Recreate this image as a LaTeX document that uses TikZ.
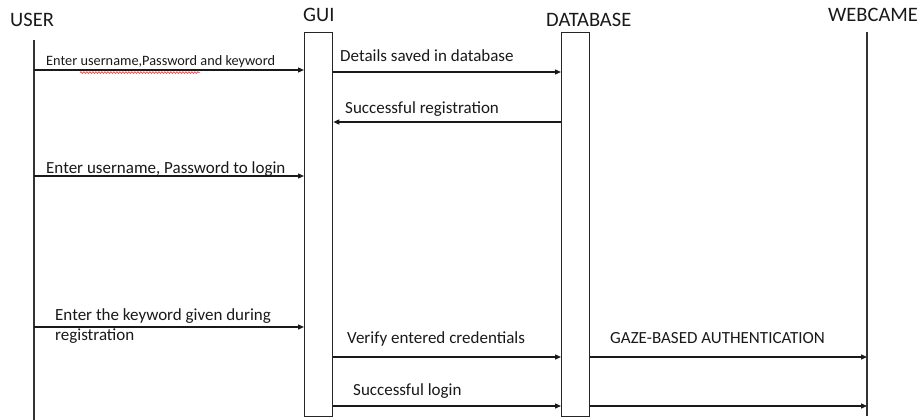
\documentclass[tikz,border=0pt]{standalone}
\usepackage{fontspec}
\setmainfont{Carlito}
\usetikzlibrary{arrows.meta,decorations.pathmorphing}
\begin{document}
\begin{tikzpicture}[x=1pt,y=1pt,
  lbl/.style={font=\fontsize{20.5}{24}\selectfont, text=black!90, inner sep=0pt, anchor=base west},
  msgtxt/.style={font=\fontsize{17}{20}\selectfont, text=black!90, inner sep=0pt, anchor=base west, align=left},
  smalltxt/.style={font=\fontsize{14.3}{17}\selectfont, text=black!90, inner sep=0pt, anchor=base west},
  msg/.style={draw=black!90, line width=1.3pt, -{Triangle[length=6pt,width=5pt]}},
  act/.style={draw=black!85, line width=1.3pt, fill=white, minimum width=28pt, minimum height=384pt, inner sep=0pt, anchor=north west},
  life/.style={draw=black!80, line width=1.3pt},
  squiggle/.style={draw=red!75, line width=0.7pt, decorate, decoration={snake, amplitude=0.9pt, segment length=3pt}}]
\useasboundingbox (0,0) rectangle (923,-420);

% actor labels
\node[lbl] (userlbl) at (10,-27) {USER};
\node[lbl] (guilbl) at (303,-22) {GUI};
\node[lbl] (dblbl) at (546,-27) {DATABASE};
\node[lbl] (camlbl) at (828,-22) {WEBCAME};

% lifelines and activation boxes
\coordinate (userTop) at (34,-40);
\coordinate (userBot) at (34,-420);
\draw[life] (userTop) -- (userBot);
\node[act] (gui) at (304,-32) {};
\node[act] (db) at (561,-32) {};
\coordinate (camTop) at (867,-32);
\coordinate (camBot) at (867,-416);
\draw[life] (camTop) -- (camBot);

% message 1
\node[smalltxt] (t1) at (46,-66) {Enter username,Password and keyword};
\draw[msg] (userTop |- 0,-70) -- (gui.west |- 0,-70);
\coordinate (sq1) at (80,-72.6);
\coordinate (sq2) at (200,-72.6);
\draw[squiggle] (sq1) -- (sq2);

% message 2
\node[msgtxt] (t2) at (340,-62) {Details saved in database};
\draw[msg] (gui.east |- 0,-72) -- (db.west |- 0,-72);

% message 3
\node[msgtxt] (t3) at (345,-113) {Successful registration};
\draw[msg] (db.west |- 0,-122) -- (gui.east |- 0,-122);

% message 4
\node[msgtxt] (t4) at (46,-173) {Enter username, Password to login};
\draw[msg] (userTop |- 0,-176) -- (gui.west |- 0,-176);

% message 5
\node[msgtxt] (t5) at (55,-340) {Enter the keyword given during\\registration};
\draw[msg] (userTop |- 0,-327) -- (gui.west |- 0,-327);

% message 6
\node[msgtxt] (t6) at (347,-343) {Verify entered credentials};
\draw[msg] (gui.east |- 0,-357) -- (db.west |- 0,-357);

% message 7
\node[msgtxt] (t7) at (610,-343) {GAZE-BASED AUTHENTICATION};
\draw[msg] (db.east |- 0,-357) -- (camTop |- 0,-357);

% message 8
\node[msgtxt] (t8) at (353,-395) {Successful login};
\draw[msg] (gui.east |- 0,-406) -- (db.west |- 0,-406);
\draw[msg] (db.east |- 0,-406) -- (camTop |- 0,-406);
\end{tikzpicture}
\end{document}
